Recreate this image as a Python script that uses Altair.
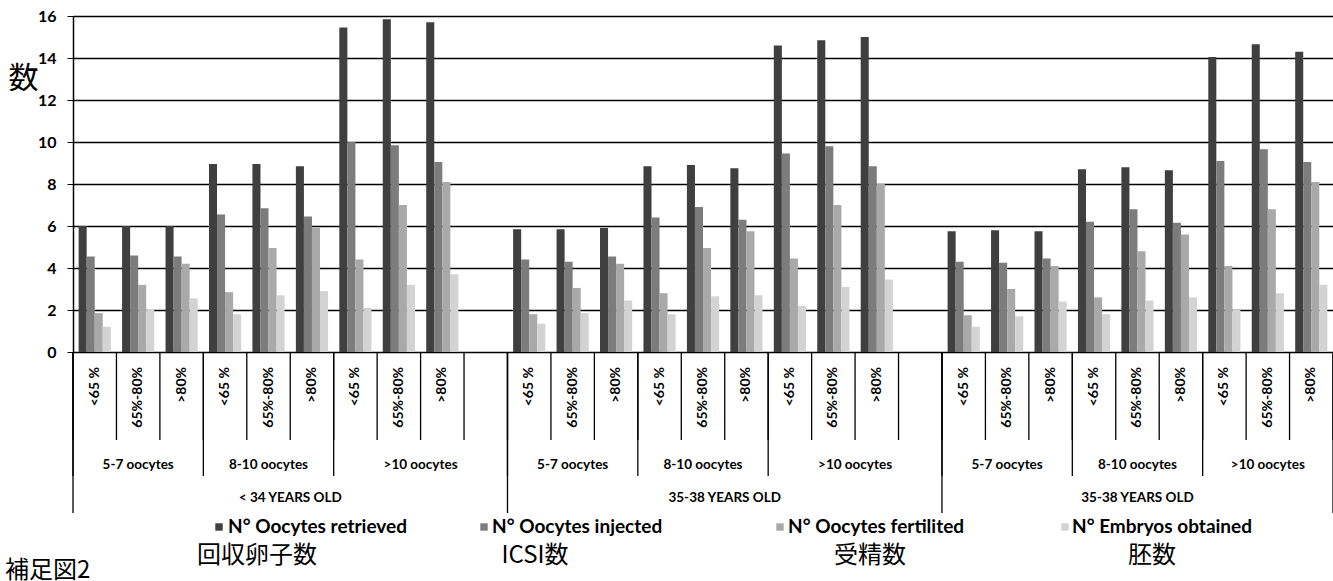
import altair as alt
import pandas as pd

# ---------------- data ----------------
pct_labels = ["<65 %", "65%-80%", ">80%"]
oocyte_labels = ["5-7 oocytes", "8-10 oocytes", ">10 oocytes"]
age_labels = ["< 34 YEARS OLD", "35-38 YEARS OLD", "35-38 YEARS OLD"]
series = ["N° Oocytes retrieved", "N° Oocytes injected", "N° Oocytes fertilited", "N° Embryos obtained"]
series_ja = ["回収卵子数", "ICSI数", "受精数", "胚数"]
y_ticks = [0, 2, 4, 6, 8, 10, 12, 14, 16]

# 27 categories: age group -> oocyte group -> fertilisation rate
retrieved = [6.0, 6.0, 6.0, 8.95, 8.95, 8.85, 15.45, 15.85, 15.7,
             5.85, 5.85, 5.9, 8.85, 8.9, 8.75, 14.6, 14.85, 15.0,
             5.75, 5.8, 5.75, 8.7, 8.8, 8.65, 14.05, 14.65, 14.3]
injected = [4.55, 4.6, 4.55, 6.55, 6.85, 6.45, 10.0, 9.85, 9.05,
            4.4, 4.3, 4.55, 6.4, 6.9, 6.3, 9.45, 9.8, 8.85,
            4.3, 4.25, 4.45, 6.2, 6.8, 6.15, 9.1, 9.65, 9.05]
fertilized = [1.85, 3.2, 4.2, 2.85, 4.95, 5.9, 4.4, 7.0, 8.1,
              1.8, 3.05, 4.2, 2.8, 4.95, 5.75, 4.45, 7.0, 8.0,
              1.75, 3.0, 4.1, 2.6, 4.8, 5.6, 4.1, 6.8, 8.1]
embryos = [1.2, 2.05, 2.55, 1.8, 2.7, 2.9, 2.1, 3.2, 3.7,
           1.35, 1.85, 2.45, 1.8, 2.65, 2.7, 2.2, 3.1, 3.45,
           1.2, 1.7, 2.4, 1.8, 2.45, 2.6, 2.0, 2.8, 3.2]
series_values = [retrieved, injected, fertilized, embryos]
bar_colors = ["#3f3f3f", "#7c7c7c", "#a9a9a9", "#d3d3d3"]

# ---------------- category structure ----------------
slots, slot_pct, oocyte_spans, age_spans = [], [], [], []
for a, age in enumerate(age_labels):
    a_start = len(slots)
    for o, ooc in enumerate(oocyte_labels):
        o_start = len(slots)
        for p, pct in enumerate(pct_labels):
            slots.append(f"{a}-{o}-{p}")
            slot_pct.append(pct)
        if o == 2 and a < len(age_labels) - 1:
            slots.append(f"{a}-gap")
            slot_pct.append("")
        oocyte_spans.append((ooc, o_start, len(slots)))
    age_spans.append((age, a_start, len(slots)))
n_slots = len(slots)

rows = []
k = 0
for s, pct in zip(slots, slot_pct):
    if pct == "":
        continue
    for name, vals in zip(series, series_values):
        rows.append({"slot": s, "series": name, "value": vals[k]})
    k += 1
bars_df = pd.DataFrame(rows)

pct_df = pd.DataFrame([{"pos": i + 0.5, "label": l} for i, l in enumerate(slot_pct) if l])
ooc_df = pd.DataFrame([{"pos": (s + e) / 2, "label": l} for l, s, e in oocyte_spans])
age_df = pd.DataFrame([{"pos": (s + e) / 2, "label": l} for l, s, e in age_spans])
b_all = pd.DataFrame({"pos": list(range(n_slots + 1))})
b_ooc = pd.DataFrame({"pos": [s for _, s, _ in oocyte_spans]})
b_age = pd.DataFrame({"pos": [s for _, s, _ in age_spans] + [n_slots]})

# ---------------- chart ----------------
W, H = 1260, 336
TOP = 16
LAT = "Lato"
JP = "Noto Sans CJK JP"

color_scale = alt.Scale(domain=series, range=bar_colors)
xpos = alt.X("pos:Q", scale=alt.Scale(domain=[0, n_slots], nice=False, zero=False), axis=None)

bars = alt.Chart(bars_df).mark_bar().encode(
    x=alt.X("slot:N", scale=alt.Scale(domain=slots, paddingInner=0, paddingOuter=0), axis=None),
    xOffset=alt.XOffset("series:N", scale=alt.Scale(domain=series, paddingInner=0, paddingOuter=0.7)),
    y=alt.Y("value:Q", scale=alt.Scale(domain=[0, 16], nice=False),
            axis=alt.Axis(values=y_ticks, title="数", titleAngle=0, titleX=-50, titleY=62,
                          titleAlign="center", titleBaseline="middle", titleFont=JP,
                          titleFontSize=30, titleFontWeight="normal", titleColor="black",
                          labelFont=LAT, labelFontSize=16, labelFontWeight="bold",
                          labelColor="black", labelPadding=11, tickColor="black", tickSize=6,
                          domainColor="black", domainWidth=1.5,
                          grid=True, gridColor="black", gridWidth=1.5)),
    color=alt.Color("series:N", scale=color_scale, legend=None),
)

def rules(df, y2_abs):
    return alt.Chart(df).mark_rule(color="black", strokeWidth=1.3).encode(
        x=xpos, y=alt.value(H), y2=alt.value(y2_abs - TOP))

pct_text = alt.Chart(pct_df).mark_text(angle=270, align="right", baseline="middle",
                                       font=LAT, fontSize=14, fontWeight="bold", color="black").encode(
    x=xpos, y=alt.value(367 - TOP), text="label:N")
ooc_text = alt.Chart(ooc_df).mark_text(align="center", baseline="middle", font=LAT,
                                       fontSize=13.5, fontWeight="bold", color="black").encode(
    x=xpos, y=alt.value(465 - TOP), text="label:N")
age_text = alt.Chart(age_df).mark_text(align="center", baseline="middle", font=LAT,
                                       fontSize=13.5, fontWeight="bold", color="black").encode(
    x=xpos, y=alt.value(498 - TOP), text="label:N")

legend_sq_x = [146, 411, 707, 992]
legend_tx_x = [155, 419, 715, 999]
ja_x = [184, 462, 797, 1079]
legend_layers = []
for i, name in enumerate(series):
    one = pd.DataFrame({"series": [name], "ja": [series_ja[i]]})
    legend_layers.append(alt.Chart(one).mark_square(size=55, opacity=1).encode(
        x=alt.value(legend_sq_x[i]), y=alt.value(527 - TOP),
        color=alt.Color("series:N", scale=color_scale, legend=None)))
    legend_layers.append(alt.Chart(one).mark_text(align="left", baseline="middle", font=LAT,
                                                  fontSize=19, fontWeight="bold", color="black").encode(
        x=alt.value(legend_tx_x[i]), y=alt.value(527 - TOP), text="series:N"))
    legend_layers.append(alt.Chart(one).mark_text(align="center", baseline="middle", font=JP,
                                                  fontSize=24, color="black").encode(
        x=alt.value(ja_x[i]), y=alt.value(556 - TOP), text="ja:N"))

note = alt.Chart(pd.DataFrame({"t": ["補足図2"]})).mark_text(
    align="left", baseline="top", font=JP, fontSize=24, color="black").encode(
    x=alt.value(-68), y=alt.value(559 - TOP), text="t:N")

chart = alt.layer(
    bars,
    rules(b_all, 440), rules(b_ooc, 476), rules(b_age, 513),
    pct_text, ooc_text, age_text, *legend_layers, note,
).resolve_scale(x="independent").properties(
    width=W, height=H,
    padding={"left": 73, "top": TOP, "right": 0, "bottom": 229},
    autosize=alt.AutoSizeParams(type="none"),
).configure_view(stroke=None).configure(background="white")

chart.save("out.html", embed_options={"renderer": "svg", "actions": False})
